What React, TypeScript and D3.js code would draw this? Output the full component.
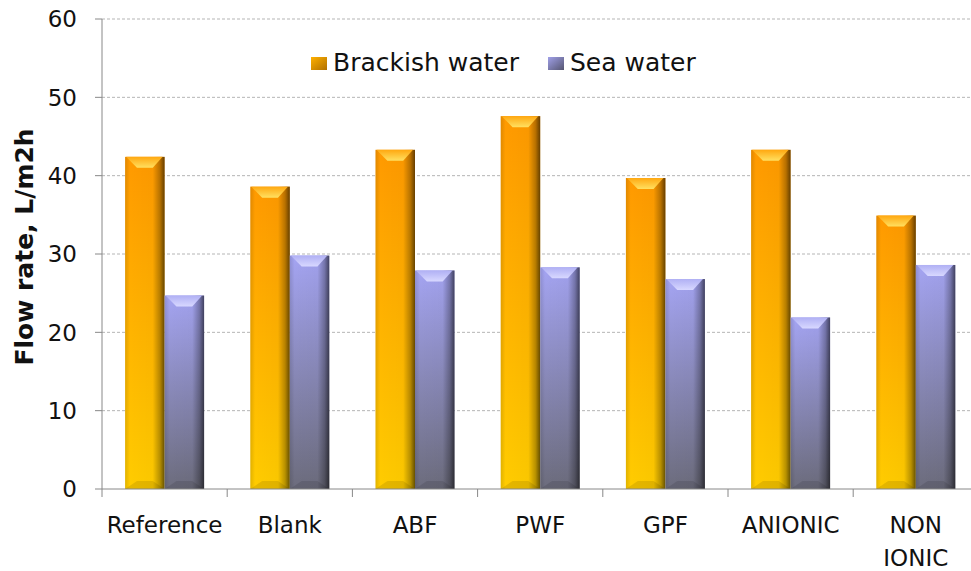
import React from "react";
import * as d3 from "d3";

const categories = ["Reference", "Blank", "ABF", "PWF", "GPF", "ANIONIC", "NON IONIC"];
const seriesNames = ["Brackish water", "Sea water"];
const brackish = [42.4, 38.6, 43.3, 47.6, 39.7, 43.3, 34.9];
const sea = [24.7, 29.8, 27.9, 28.3, 26.8, 21.9, 28.6];
const yTicks = [0, 10, 20, 30, 40, 50, 60];

const W = 971;
const H = 571;
const left = 102;
const top = 19;
const bottom = 489;
const step = 125.2;
const FONT = "'DejaVu Sans', Verdana, sans-serif";

export default function App() {
  const x0 = d3.scaleBand<string>().domain(categories).range([left, left + step * categories.length]).padding(0);
  const x1 = d3.scaleBand<string>().domain(seriesNames).range([0, x0.bandwidth()]).paddingInner(0).paddingOuter(0.585);
  const y = d3.scaleLinear().domain([0, 60]).range([bottom, top]);
  const values = [brackish, sea];
  const gradIds = ["gB", "gS"];
  const capIds = ["cB", "cS"];

  const bars: React.ReactNode[] = [];
  categories.forEach((c, i) => {
    values.forEach((vals, s) => {
      const v = vals[i];
      const bx = x0(c)! + x1(seriesNames[s])!;
      const bw = x1.bandwidth();
      const by = y(v);
      const bh = y(0) - by;
      const ins = bw * 0.3;
      bars.push(
        <g key={c + s}>
          <rect x={bx} y={by} width={bw} height={bh} fill={`url(#${gradIds[s]})`} />
          <rect x={bx} y={by} width={bw} height={bh} fill="url(#shadeH)" />
          <polygon
            points={`${bx + 1},${by} ${bx + bw - 2},${by} ${bx + bw - ins},${by + 11} ${bx + ins},${by + 11}`}
            fill={`url(#${capIds[s]})`}
          />
          <polygon
            points={`${bx},${y(0)} ${bx + bw},${y(0)} ${bx + bw - ins},${y(0) - 8} ${bx + ins},${y(0) - 8}`}
            fill="rgba(0,0,0,0.10)"
          />
        </g>
      );
    });
  });

  return (
    <svg width={W} height={H} style={{ position: "absolute", left: 0, top: 0, background: "#fff" }}>
      <defs>
        <linearGradient id="gB" x1="0" y1="0" x2="0" y2="1">
          <stop offset="0" stopColor="#ff9900" />
          <stop offset="1" stopColor="#ffcc00" />
        </linearGradient>
        <linearGradient id="gS" x1="0" y1="0" x2="0" y2="1">
          <stop offset="0" stopColor="#a4a4f2" />
          <stop offset="1" stopColor="#6c6c7c" />
        </linearGradient>
        <linearGradient id="shadeH" x1="0" y1="0" x2="1" y2="0">
          <stop offset="0" stopColor="#000" stopOpacity="0.12" />
          <stop offset="0.12" stopColor="#000" stopOpacity="0" />
          <stop offset="0.7" stopColor="#000" stopOpacity="0.02" />
          <stop offset="0.88" stopColor="#000" stopOpacity="0.28" />
          <stop offset="1" stopColor="#000" stopOpacity="0.6" />
        </linearGradient>
        <linearGradient id="cB" x1="0" y1="0" x2="0" y2="1">
          <stop offset="0" stopColor="#ffa810" />
          <stop offset="1" stopColor="#ffe060" />
        </linearGradient>
        <linearGradient id="cS" x1="0" y1="0" x2="0" y2="1">
          <stop offset="0" stopColor="#b0b0f4" />
          <stop offset="1" stopColor="#d8d8ff" />
        </linearGradient>
        <linearGradient id="lgB" x1="0" y1="0" x2="1" y2="1">
          <stop offset="0" stopColor="#ffb000" />
          <stop offset="1" stopColor="#b07000" />
        </linearGradient>
        <linearGradient id="lgS" x1="0" y1="0" x2="1" y2="1">
          <stop offset="0" stopColor="#a0a0e8" />
          <stop offset="1" stopColor="#555570" />
        </linearGradient>
      </defs>

      {yTicks.filter((t) => t > 0).map((t) => (
        <line key={t} x1={left} x2={W} y1={y(t)} y2={y(t)} stroke="#b5b5b5" strokeDasharray="3,2" strokeWidth={1} />
      ))}

      {bars}

      <line x1={left} x2={left} y1={top} y2={bottom} stroke="#888" strokeWidth={1} />
      <line x1={left} x2={W} y1={bottom} y2={bottom} stroke="#888" strokeWidth={1} />
      {yTicks.map((t) => (
        <g key={t}>
          <line x1={left - 7} x2={left} y1={y(t)} y2={y(t)} stroke="#888" />
          <text x={left - 25} y={y(t)} dy="0.36em" textAnchor="end" fontFamily={FONT} fontSize={23} fill="#111">
            {t}
          </text>
        </g>
      ))}
      {categories.map((c) => (
        <line key={c} x1={x0(c)!} x2={x0(c)!} y1={bottom} y2={bottom + 8} stroke="#888" />
      ))}
      {categories.map((c) => {
        const cx = x0(c)! + x0.bandwidth() / 2;
        const parts = c === "NON IONIC" ? ["NON", "IONIC"] : [c];
        return (
          <text key={c} x={cx} y={533} textAnchor="middle" fontFamily={FONT} fontSize={23} fill="#111">
            {parts.map((p, k) => (
              <tspan key={k} x={cx} dy={k === 0 ? 0 : 33}>
                {p}
              </tspan>
            ))}
          </text>
        );
      })}

      <text
        transform={`translate(33,247) rotate(-90)`}
        textAnchor="middle"
        fontFamily={FONT}
        fontWeight="bold"
        fontSize={25}
        fill="#111"
      >
        Flow rate, L/m2h
      </text>

      <g>
        <rect x={311} y={57} width={16} height={13} fill="url(#lgB)" />
        <text x={333} y={71} fontFamily={FONT} fontSize={25} fill="#111">{seriesNames[0]}</text>
        <rect x={548} y={57} width={16} height={13} fill="url(#lgS)" />
        <text x={570} y={71} fontFamily={FONT} fontSize={25} fill="#111">{seriesNames[1]}</text>
      </g>
    </svg>
  );
}
